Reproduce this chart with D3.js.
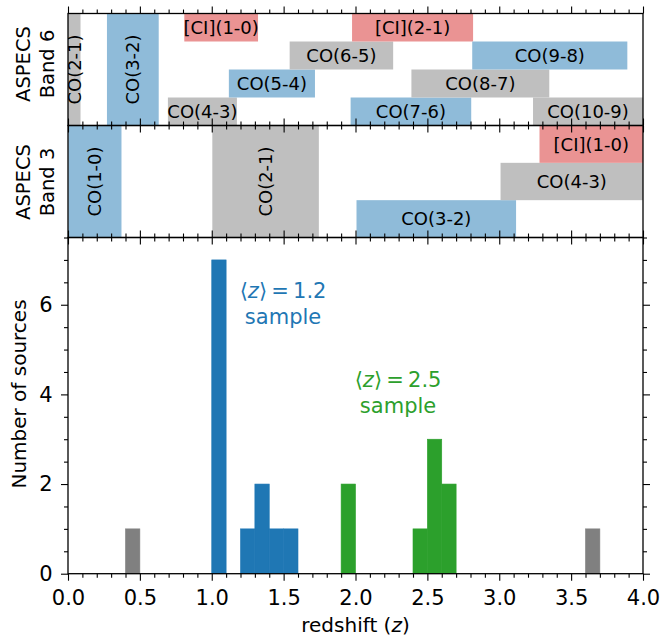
<!DOCTYPE html>
<html><head><meta charset="utf-8">
<script src="https://cdn.jsdelivr.net/npm/d3@7"></script>
<style>
body{margin:0;background:#fff}
svg{display:block;font-family:"DejaVu Sans",sans-serif}
</style>
</head><body>
<svg id="c" width="662" height="639"></svg>
<script>
// ---------- data ----------
// ASPECS Band 6 line coverage (redshift ranges); tier 0 = top row, -1 = spans whole panel
const band6Labels = ["CO(2-1)","CO(3-2)","CO(4-3)","[CI](1-0)","CO(5-4)","CO(6-5)","CO(7-6)","[CI](2-1)","CO(8-7)","CO(9-8)","CO(10-9)"];
const band6ZMin   = [0.000, 0.271, 0.695, 0.809, 1.119, 1.542, 1.966, 1.976, 2.389, 2.812, 3.235];
const band6ZMax   = [0.087, 0.631, 1.175, 1.322, 1.718, 2.262, 2.805, 2.818, 3.348, 3.891, 4.434];
const band6Tier   = [-1, -1, 3, 0, 2, 1, 3, 0, 2, 1, 3];
const band6Tiers  = 4;

// ASPECS Band 3 line coverage
const band3Labels = ["CO(1-0)","CO(2-1)","CO(3-2)","CO(4-3)","[CI](1-0)"];
const band3ZMin   = [0.002, 1.004, 2.007, 3.009, 3.280];
const band3ZMax   = [0.372, 1.745, 3.117, 4.489, 4.859];
const band3Tier   = [-1, -1, 2, 1, 0];
const band3Tiers  = 3;

// histogram of sources (bin width 0.1)
const binStart  = [0.4, 1.0, 1.2, 1.3, 1.4, 1.5, 1.9, 2.4, 2.5, 2.6, 3.6];
const binCount  = [1, 7, 1, 2, 1, 1, 2, 1, 3, 2, 1];
const binSample = ["other","z12","z12","z12","z12","z12","z25","z25","z25","z25","other"];
const binWidth  = 0.1;

const xTicksMajor = [0, 0.5, 1.0, 1.5, 2.0, 2.5, 3.0, 3.5, 4.0];
const yTicksMajor = [0, 2, 4, 6];

// ---------- layout ----------
const svg = d3.select("#c");
const L = 68, R = 643;
const P1 = {top: 13.5, bottom: 125.5};
const P2 = {top: 125.5, bottom: 237.5};
const P3 = {top: 237.5, bottom: 573.7};

const x = d3.scaleLinear().domain([0, 4]).range([L, R]);
const xMinor = d3.range(0, 4.0001, 0.1).map(v => +v.toFixed(1)).filter(v => !xTicksMajor.some(m => Math.abs(m - v) < 1e-6));

const COL = {blue: "#8fbbd9", gray: "#bfbfbf", red: "#ea9393"};
function lineColour(label) {
  if (label.startsWith("[CI]")) return COL.red;
  const m = label.match(/CO\((\d+)-/);
  return (+m[1]) % 2 === 1 ? COL.blue : COL.gray;
}
const sampleColour = {z12: "#1f77b4", z25: "#2ca02c", other: "#808080"};

svg.append("defs").selectAll("clipPath").data([P1, P2, P3]).join("clipPath")
  .attr("id", (d, i) => "clip" + i)
  .append("rect").attr("x", L).attr("y", d => d.top).attr("width", R - L).attr("height", d => d.bottom - d.top);

function drawBand(P, idx, labels, zmin, zmax, tier, nTiers) {
  const y = d3.scaleLinear().domain([0, nTiers]).range([P.top, P.bottom]);
  const items = labels.map((l, i) => ({label: l, lo: zmin[i], hi: zmax[i], tier: tier[i]}));
  const g = svg.append("g").attr("clip-path", `url(#clip${idx})`);
  g.selectAll("rect").data(items).join("rect")
    .attr("x", d => x(Math.max(0, d.lo)))
    .attr("width", d => x(Math.min(4, d.hi)) - x(Math.max(0, d.lo)))
    .attr("y", d => d.tier < 0 ? y(0) : y(d.tier))
    .attr("height", d => d.tier < 0 ? y(nTiers) - y(0) : y(d.tier + 1) - y(d.tier))
    .attr("fill", d => lineColour(d.label));
  g.selectAll("text").data(items).join("text")
    .attr("font-size", 18)
    .attr("fill", "#000")
    .attr("text-anchor", "middle")
    .attr("dy", "0.36em")
    .attr("transform", d => {
      const cx = x((Math.max(0, d.lo) + Math.min(4, d.hi)) / 2);
      if (d.tier < 0) return `translate(${cx},${(y(0) + y(nTiers)) / 2}) rotate(-90)`;
      return `translate(${cx},${(y(d.tier) + y(d.tier + 1)) / 2})`;
    })
    .text(d => d.label);
}

drawBand(P1, 0, band6Labels, band6ZMin, band6ZMax, band6Tier, band6Tiers);
drawBand(P2, 1, band3Labels, band3ZMin, band3ZMax, band3Tier, band3Tiers);

// ---------- histogram ----------
const yH = d3.scaleLinear().domain([0, 7.5]).range([P3.bottom, P3.top]);
const bins = binStart.map((s, i) => ({s, c: binCount[i], k: binSample[i]}));
svg.append("g").attr("clip-path", "url(#clip2)").selectAll("rect").data(bins).join("rect")
  .attr("x", d => x(d.s))
  .attr("width", d => x(d.s + binWidth) - x(d.s))
  .attr("y", d => yH(d.c))
  .attr("height", d => yH(0) - yH(d.c))
  .attr("fill", d => sampleColour[d.k])
  .attr("stroke", d => sampleColour[d.k])
  .attr("stroke-width", 0.6);

// annotations
function annot(zx, cy, colour, val) {
  const t = svg.append("text").attr("x", x(zx)).attr("y", yH(cy))
    .attr("text-anchor", "middle").attr("font-size", 21).attr("fill", colour);
  t.append("tspan").text("\u27E8");
  t.append("tspan").attr("font-style", "italic").text("z");
  t.append("tspan").text("\u27E9\u2009=\u2009" + val);
  svg.append("text").attr("x", x(zx)).attr("y", yH(cy) + 25.5)
    .attr("text-anchor", "middle").attr("font-size", 21).attr("fill", colour).text("sample");
}
annot(1.496, 6.14, sampleColour.z12, "1.2");
annot(2.296, 4.16, sampleColour.z25, "2.5");

// ---------- axes / ticks ----------
const MAJ = 7, MIN = 4;
function styleAxis(g) {
  g.select(".domain").remove();
  g.selectAll(".tick line").attr("stroke", "#000").attr("stroke-width", 1.1);
  g.selectAll(".tick text").attr("font-family", "DejaVu Sans").attr("font-size", 21).attr("fill", "#000");
}
function xTicksAt(yPos, top, withLabels) {
  const axM = (top ? d3.axisTop(x) : d3.axisBottom(x)).tickValues(xTicksMajor).tickSize(MAJ).tickSizeOuter(0).tickPadding(9.5)
    .tickFormat(withLabels ? d3.format(".1f") : () => "");
  svg.append("g").attr("transform", `translate(0,${yPos})`).call(axM).call(styleAxis);
  const axm = (top ? d3.axisTop(x) : d3.axisBottom(x)).tickValues(xMinor).tickSize(MIN).tickSizeOuter(0).tickFormat(() => "");
  svg.append("g").attr("transform", `translate(0,${yPos})`).call(axm).call(styleAxis);
}
[P1, P2, P3].forEach(P => {
  xTicksAt(P.top, true, false);
  xTicksAt(P.bottom, false, P === P3);
});

const yMinor = d3.range(0.5, 7.51, 0.5).filter(v => v % 2 !== 0);
svg.append("g").attr("transform", `translate(${L},0)`)
  .call(d3.axisLeft(yH).tickValues(yTicksMajor).tickSize(MAJ).tickSizeOuter(0).tickPadding(8.3).tickFormat(d3.format("d"))).call(styleAxis);
svg.append("g").attr("transform", `translate(${L},0)`)
  .call(d3.axisLeft(yH).tickValues(yMinor).tickSize(MIN).tickSizeOuter(0).tickFormat(() => "")).call(styleAxis);
svg.append("g").attr("transform", `translate(${R},0)`)
  .call(d3.axisRight(yH).tickValues(yTicksMajor).tickSize(MAJ).tickSizeOuter(0).tickFormat(() => "")).call(styleAxis);
svg.append("g").attr("transform", `translate(${R},0)`)
  .call(d3.axisRight(yH).tickValues(yMinor).tickSize(MIN).tickSizeOuter(0).tickFormat(() => "")).call(styleAxis);

// spines
[P1, P2, P3].forEach(P => {
  svg.append("rect").attr("x", L).attr("y", P.top).attr("width", R - L).attr("height", P.bottom - P.top)
    .attr("fill", "none").attr("stroke", "#000").attr("stroke-width", 1.3);
});

// axis labels
function twoLine(cy, l1, l2) {
  const g = svg.append("g").attr("transform", `translate(0,${cy})`);
  g.append("text").attr("transform", `translate(29.5,0) rotate(-90)`).attr("text-anchor", "middle")
    .attr("font-size", 19.5).attr("fill", "#000").text(l1);
  g.append("text").attr("transform", `translate(54,0) rotate(-90)`).attr("text-anchor", "middle")
    .attr("font-size", 19.5).attr("fill", "#000").text(l2);
}
twoLine(64, "ASPECS", "Band 6");
twoLine(182, "ASPECS", "Band 3");

svg.append("text").attr("transform", `translate(25.5,394) rotate(-90)`).attr("text-anchor", "middle")
  .attr("font-size", 20).attr("fill", "#000").text("Number of sources");

const xl = svg.append("text").attr("x", (L + R) / 2).attr("y", 632).attr("text-anchor", "middle")
  .attr("font-size", 20).attr("fill", "#000");
xl.append("tspan").text("redshift (");
xl.append("tspan").attr("font-style", "italic").text("z");
xl.append("tspan").text(")");
</script>
</body></html>
